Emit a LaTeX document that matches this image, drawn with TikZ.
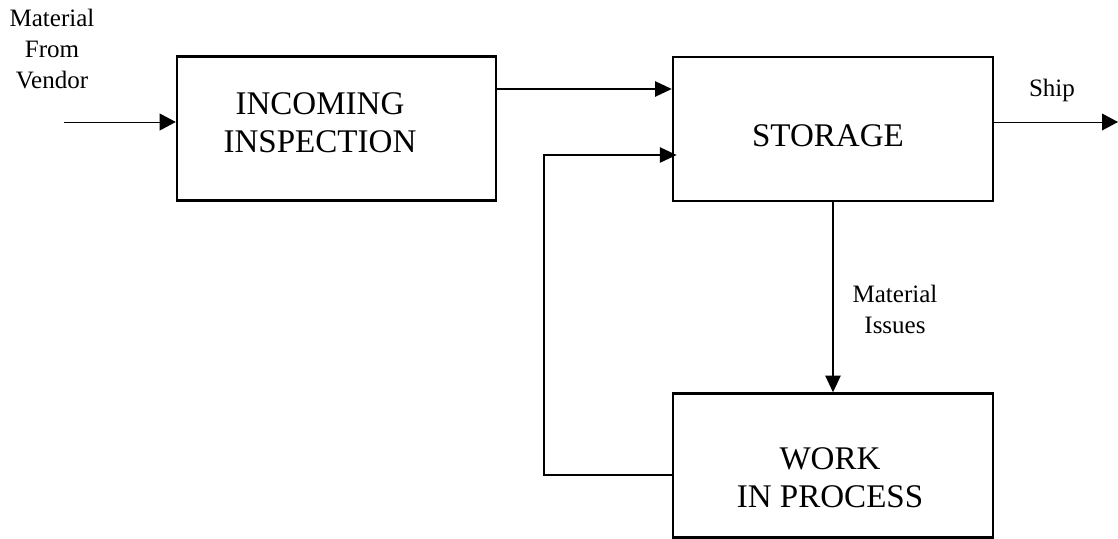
\documentclass[tikz,border=0pt]{standalone}
\usepackage{fontspec}
\setmainfont{Liberation Serif}
\usepackage{tikz}
\usetikzlibrary{arrows.meta}

\begin{document}
\begin{tikzpicture}[x=0.025cm,y=-0.025cm,
  box/.style={draw,line width=1.6pt,minimum width=8cm,minimum height=3.6cm,inner sep=0pt},
  boxtext/.style={font=\fontsize{23.5}{27}\selectfont,align=center,inner sep=0pt},
  lbl/.style={font=\fontsize{17.8}{22}\selectfont,align=center,inner sep=0pt},
  arr/.style={line width=1.4pt,-{Triangle[length=0.42cm,width=0.38cm]}},
  thinarr/.style={line width=0.7pt,-{Triangle[length=0.4cm,width=0.42cm]}}]
\useasboundingbox (0,0) rectangle (1118,539);
% boxes
\node[box,minimum width=7.98cm] (insp) at (336.5,128.5) {};
\node[box] (stor) at (833,129) {};
\node[box] (wip) at (833,465.5) {};
\node[boxtext] (insptext) at (320,123) {INCOMING\\INSPECTION};
\node[boxtext] (stortext) at (828,136) {STORAGE};
\node[boxtext] (wiptext) at (830,478) {WORK\\IN PROCESS};
% labels
\node[lbl] (vendor) at (52,49) {Material\\From\\Vendor};
\node[lbl,anchor=base] (ship) at (1052,96) {Ship};
\node[lbl] (issues) at (895,309) {Material\\Issues};
% connectors
\coordinate (vendorin) at (64,122);
\coordinate (shipout) at (1118,122);
\coordinate (fb) at (544,155);
\draw[thinarr] (vendorin) -- (vendorin -| insp.west);
\draw[arr] (insp.east |- 0,89) -- (stor.west |- 0,89);
\draw[thinarr] (stor.east |- shipout) -- (shipout);
\draw[arr] (stor.south) -- (wip.north);
\draw[arr,shorten >=-0.12cm] (wip.west |- 0,475) -| (fb) -- (stor.west |- fb);
\end{tikzpicture}
\end{document}
